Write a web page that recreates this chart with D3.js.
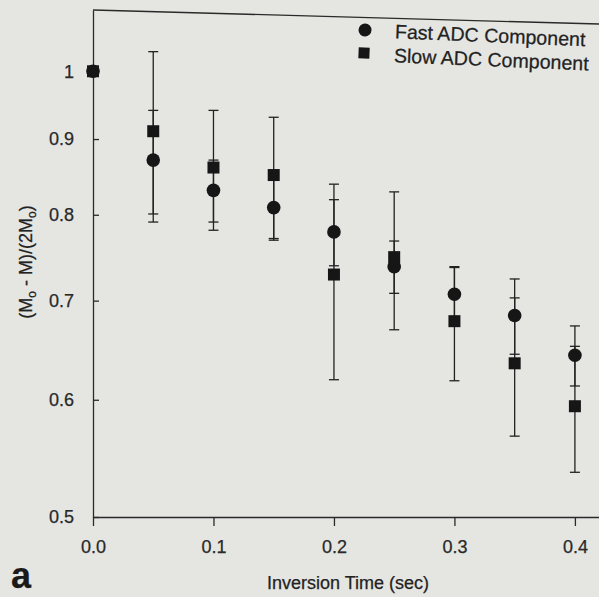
<!DOCTYPE html>
<html>
<head>
<meta charset="utf-8">
<script src="https://cdn.jsdelivr.net/npm/d3@7"></script>
<style>
  html, body { margin: 0; padding: 0; background: #e5e6e2; }
  svg { display: block; }
  text { font-family: "Liberation Sans", Arial, sans-serif; fill: #222; stroke: #222; stroke-width: 0.25px; }
</style>
</head>
<body>
<svg id="chart" width="599" height="597"></svg>
<script>
// ---- data ----
const times     = [0, 0.05, 0.1, 0.15, 0.2, 0.25, 0.3, 0.35, 0.4];
const fastVals  = [1.0, 0.871, 0.831, 0.809, 0.779, 0.738, 0.707, 0.684, 0.643];
const fastErr   = [0, 0.07, 0.04, 0.04, 0.04, 0.03, 0.03, 0.04, 0.03];
const slowVals  = [1.0, 0.911, 0.861, 0.851, 0.729, 0.749, 0.678, 0.635, 0.594];
const slowErr   = [0, 0.12, 0.08, 0.08, 0.11, 0.08, 0.06, 0.068, 0.058];
const xTicks    = [0, 0.1, 0.2, 0.3, 0.4];
const xTickLabels = ["0.0", "0.1", "0.2", "0.3", "0.4"];
const yTicks    = [0.5, 0.6, 0.7, 0.8, 0.9, 1];
const yTickLabels = ["0.5", "0.6", "0.7", "0.8", "0.9", "1"];
const seriesNames = ["Fast ADC Component", "Slow ADC Component"];

const svg = d3.select("#chart");
const ink = "#161616";

const x = d3.scaleLinear().domain([0, 0.42]).range([93, 599]);
const y = d3.scaleLog().domain([0.5, 1.1]).range([517, 10]);

// axes
const xAxis = d3.axisBottom(x).tickValues(xTicks)
  .tickFormat((d, i) => xTickLabels[i]).tickSizeInner(9).tickSizeOuter(0).tickPadding(14);
const yAxis = d3.axisLeft(y).tickValues(yTicks)
  .tickFormat((d, i) => yTickLabels[i]).tickSizeInner(-6).tickSizeOuter(0).tickPadding(19);

const gx = svg.append("g").attr("transform", `translate(0,${y(0.5)})`).call(xAxis);
const gy = svg.append("g").attr("transform", `translate(${x(0)},0)`).call(yAxis);
[gx, gy].forEach(g => {
  g.selectAll("path, line").attr("stroke", "#2a2a2a").attr("stroke-width", 1.3);
  g.selectAll("text").attr("font-size", 18).style("fill", "#2a2a2a");
});

// top frame line
svg.append("line")
  .attr("x1", x(0)).attr("x2", x(0.42))
  .attr("y1", y(1.1)).attr("y2", y(1.1) + 14)
  .attr("stroke", "#2a2a2a").attr("stroke-width", 1.3);

// data rows
const fast = times.map((t, i) => ({ t, v: fastVals[i], e: fastErr[i] }));
const slow = times.map((t, i) => ({ t, v: slowVals[i], e: slowErr[i] }));

function errorBars(data) {
  const g = svg.append("g").attr("stroke", "#222").attr("stroke-width", 1.3);
  data.filter(d => d.e > 0).forEach(d => {
    const cx = x(d.t);
    g.append("line").attr("x1", cx).attr("x2", cx).attr("y1", y(d.v + d.e)).attr("y2", y(d.v - d.e));
    [d.v + d.e, d.v - d.e].forEach(v => {
      g.append("line").attr("x1", cx - 5).attr("x2", cx + 5).attr("y1", y(v)).attr("y2", y(v));
    });
  });
}
errorBars(fast);
errorBars(slow);

// markers
svg.append("g").selectAll("circle").data(fast).join("circle")
  .attr("cx", d => x(d.t)).attr("cy", d => y(d.v)).attr("r", 6.8).attr("fill", ink);
const sq = 12;
svg.append("g").selectAll("rect").data(slow).join("rect")
  .attr("x", d => x(d.t) - sq / 2).attr("y", d => y(d.v) - sq / 2)
  .attr("width", sq).attr("height", sq).attr("fill", ink);

// legend
const lg = svg.append("g").attr("transform", "translate(365,30) rotate(2.4)");
lg.append("circle").attr("cx", 0).attr("cy", 0).attr("r", 6.5).attr("fill", ink);
lg.append("rect").attr("x", -5.5).attr("y", 17.5).attr("width", 11).attr("height", 11).attr("fill", ink);
lg.append("text").attr("x", 30).attr("y", 7).attr("font-size", 19.6).text(seriesNames[0]);
lg.append("text").attr("x", 30).attr("y", 31).attr("font-size", 19.6).text(seriesNames[1]);

// axis titles
svg.append("text").attr("x", 348).attr("y", 589).attr("text-anchor", "middle")
  .attr("font-size", 18).text("Inversion Time (sec)");

const yl = svg.append("text").attr("transform", "translate(32,262) rotate(-90)")
  .attr("text-anchor", "middle").attr("font-size", 18);
yl.append("tspan").text("(M");
yl.append("tspan").attr("font-size", 12).attr("dy", 4).text("o");
yl.append("tspan").attr("dy", -4).text(" - M)/(2M");
yl.append("tspan").attr("font-size", 12).attr("dy", 4).text("o");
yl.append("tspan").attr("dy", -4).text(")");

// panel letter
svg.append("text").attr("x", 11).attr("y", 588).attr("font-size", 36)
  .attr("font-weight", "bold").style("fill", "#1a1a1a").text("a");
</script>
</body>
</html>
